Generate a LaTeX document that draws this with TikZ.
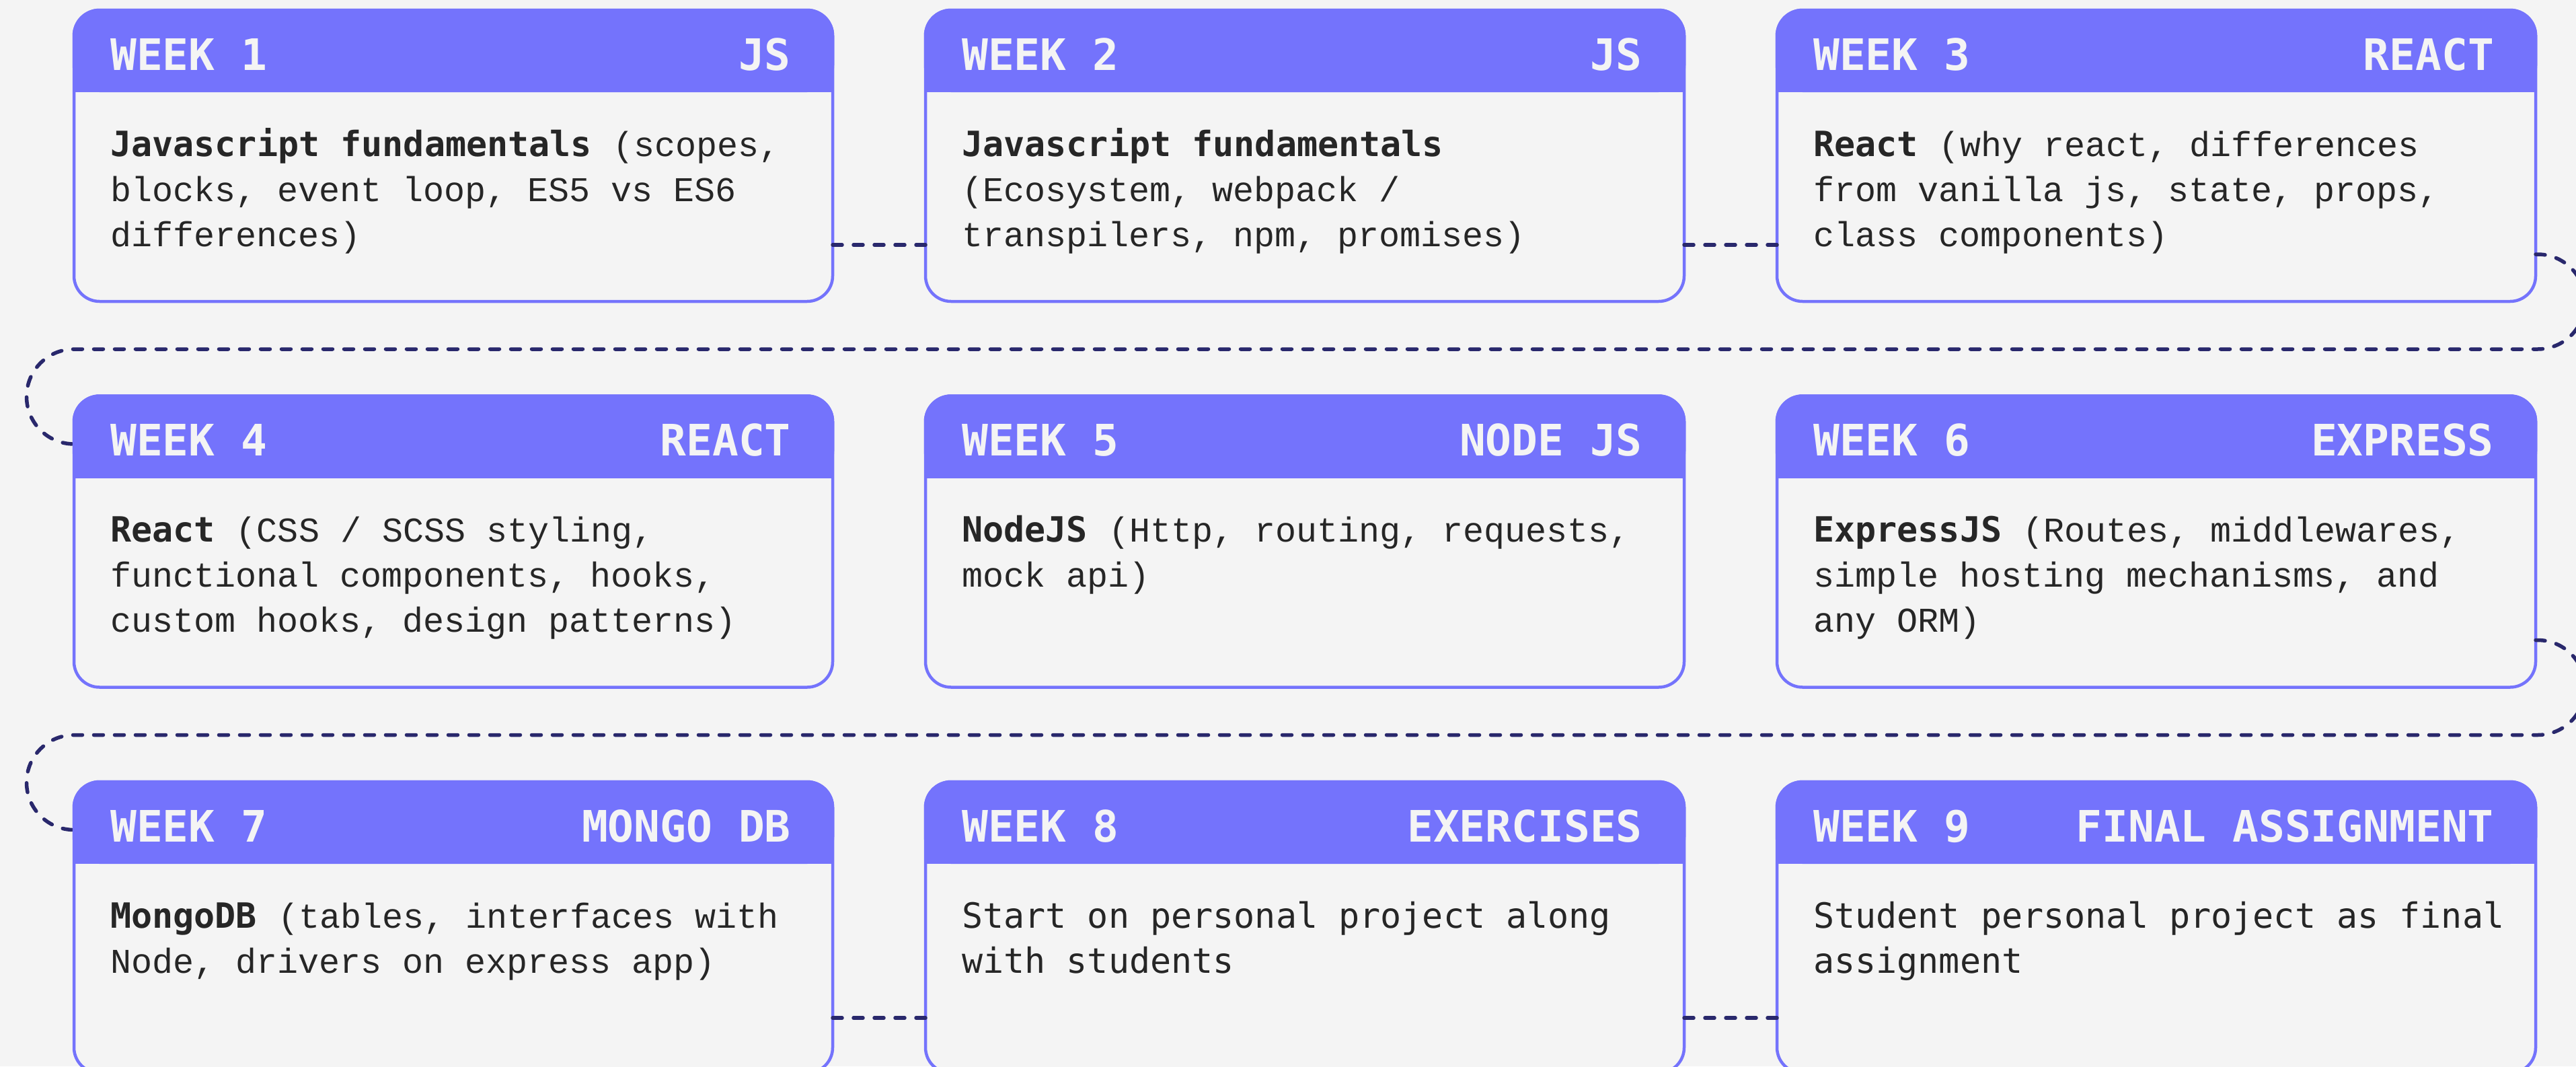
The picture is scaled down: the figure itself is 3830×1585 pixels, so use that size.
\documentclass[tikz,border=0pt]{standalone}
\usepackage{fontspec}
\newfontfamily\lightmono{Liberation Mono}
\newfontfamily\medmono{DejaVu Sans Mono}
\usetikzlibrary{calc}
\definecolor{bg}{HTML}{F4F4F4}
\definecolor{accent}{HTML}{7473FC}
\definecolor{ink}{HTML}{262626}
\definecolor{navy}{HTML}{29286C}
\tikzset{
  card/.style={draw=accent, fill=bg, line width=4.5pt, rounded corners=38pt,
    minimum width=1128pt, minimum height=433pt, inner sep=0pt, outer sep=0pt, anchor=north west},
  hdrtxt/.style={font=\medmono\bfseries\fontsize{64.5}{64.5}\selectfont, text=bg, inner sep=0pt},
  bodytxt/.style={font=\medmono\fontsize{51.7}{67}\selectfont, text=ink, inner sep=0pt, anchor=base west},
  conn/.style={draw=navy, line width=5.5pt, line cap=round, dash pattern=on 14pt off 17pt},
}
\newcommand{\lt}[1]{{\lightmono #1}}
% \mkcard{name}{week label}{tag}{body}
\newcommand{\mkcard}[4]{%
  \fill[accent, rounded corners=40.25pt] ($(#1.north west)+(-2.25,2.25)$) rectangle ($(#1.north east)+(2.25,-122)$);
  \fill[accent] ($(#1.north west)+(-2.25,-60)$) rectangle ($(#1.north east)+(2.25,-122)$);
  \node[hdrtxt, anchor=base west] (#1h) at ($(#1.north west)+(54,-89)$) {#2};
  \node[hdrtxt, anchor=base east] (#1t) at ($(#1.north east)+(-62,-89)$) {#3};
  \node[bodytxt] (#1b) at ($(#1.north west)+(54,-217)$) {\parbox[t]{1070pt}{\raggedright #4}};
}
\begin{document}
\begin{tikzpicture}[x=1pt,y=1pt]
\useasboundingbox (0,0) rectangle (3830,-1585);
\fill[bg] (0,0) rectangle (3830,-1585);

% cards
\node[card] (w1) at (110,-15) {};
\node[card] (w2) at (1376,-15) {};
\node[card] (w3) at (2642,-15) {};
\node[card] (w4) at (110,-588.5) {};
\node[card] (w5) at (1376,-588.5) {};
\node[card] (w6) at (2642,-588.5) {};
\node[card] (w7) at (110,-1162) {};
\node[card] (w8) at (1376,-1162) {};
\node[card] (w9) at (2642,-1162) {};

% connectors
\draw[conn] ($(w1.north east)+(0,-349)$) -- ($(w2.north west)+(0,-349)$);
\draw[conn] ($(w2.north east)+(0,-349)$) -- ($(w3.north west)+(0,-349)$);
\draw[conn] ($(w7.north east)+(0,-351)$) -- ($(w8.north west)+(0,-351)$);
\draw[conn] ($(w8.north east)+(0,-351)$) -- ($(w9.north west)+(0,-351)$);
\draw[conn] ($(w3.north east)+(0,-363)$) -- ++(3,0)
  arc[start angle=90, end angle=-90, radius=70.5]
  -- ($(w4.north west)+(0,69.5)$)
  arc[start angle=90, end angle=270, radius=70.5];
\draw[conn] ($(w6.north east)+(0,-363)$) -- ++(3,0)
  arc[start angle=90, end angle=-90, radius=70.5]
  -- ($(w7.north west)+(0,69.5)$)
  arc[start angle=90, end angle=270, radius=70.5];

% headers and bodies
\mkcard{w1}{WEEK 1}{JS}{\textbf{Javascript fundamentals} \lt{(scopes,}\\ \lt{blocks, event loop, ES5 vs ES6}\\ \lt{differences)}}
\mkcard{w2}{WEEK 2}{JS}{\textbf{Javascript fundamentals}\\ \lt{(Ecosystem, webpack /}\\ \lt{transpilers, npm, promises)}}
\mkcard{w3}{WEEK 3}{REACT}{\textbf{React} \lt{(why react, differences}\\ \lt{from vanilla js, state, props,}\\ \lt{class components)}}
\mkcard{w4}{WEEK 4}{REACT}{\textbf{React} \lt{(CSS / SCSS styling,}\\ \lt{functional components, hooks,}\\ \lt{custom hooks, design patterns)}}
\mkcard{w5}{WEEK 5}{NODE JS}{\textbf{NodeJS} \lt{(Http, routing, requests,}\\ \lt{mock api)}}
\mkcard{w6}{WEEK 6}{EXPRESS}{\textbf{ExpressJS} \lt{(Routes, middlewares,}\\ \lt{simple hosting mechanisms, and}\\ \lt{any ORM)}}
\mkcard{w7}{WEEK 7}{MONGO DB}{\textbf{MongoDB} \lt{(tables, interfaces with}\\ \lt{Node, drivers on express app)}}
\mkcard{w8}{WEEK 8}{EXERCISES}{Start on personal project along\\ with students}
\mkcard{w9}{WEEK 9}{FINAL ASSIGNMENT}{Student personal project as final\\ assignment}
\end{tikzpicture}
\end{document}
